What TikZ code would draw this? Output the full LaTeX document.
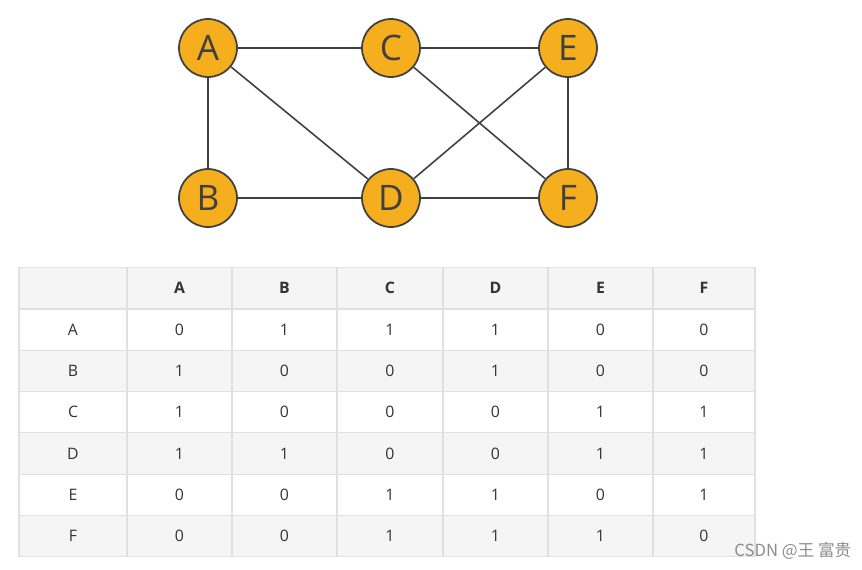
\documentclass[tikz,border=0pt]{standalone}
\usepackage{fontspec}
\setmainfont{Open Sans}
\newfontfamily\cjk{Noto Sans CJK SC}
\usetikzlibrary{calc}
\definecolor{vtxfill}{HTML}{F5AF1E}
\definecolor{inkgray}{HTML}{404040}
\definecolor{gridline}{HTML}{E0E0E0}
\definecolor{rowgray}{HTML}{F5F5F5}
\tikzset{
	vertex/.style={circle,draw=inkgray,line width=1pt,fill=vtxfill,minimum size=1.16cm,inner sep=0pt,text=inkgray,font=\fontsize{20}{20}\selectfont},
	link/.style={draw=inkgray,line width=0.9pt},
	cell/.style={rectangle,draw=gridline,line width=0.6pt,minimum height=0.826cm,inner sep=0pt,text=black!80,font=\fontsize{9}{9}\selectfont}
}
\newcommand{\colx}{{179.5,284.5,390,495.5,600.5,704}}
\newcommand{\colw}{{2.1,2.1,2.12,2.1,2.1,2.04}}

\begin{document}
\begin{tikzpicture}[x=0.02cm,y=-0.02cm]
	\useasboundingbox (0,0) rectangle (862,569);
	% graph
	\foreach \n / \x / \y in {A/208/48,C/391/48,E/568/48,B/208/198,D/391/198,F/568/198}
		\node[vertex] (\n) at (\x,\y) {\n};
	\foreach \a / \b in {A/C,C/E,A/B,A/D,B/D,D/F,C/F,D/E,E/F}
		\draw[link] (\a) -- (\b);
	% adjacency table
	\node[cell,fill=rowgray,minimum width=2.16cm] (h0) at (73,288) {};
	\foreach \l [count=\j] in {A,B,C,D,E,F} {
		\pgfmathsetmacro\cx{\colx[\j-1]}
		\pgfmathsetmacro\cw{\colw[\j-1]}
		\node[cell,fill=rowgray,minimum width=\cw cm] (h\l) at (\cx,288) {\bfseries\l};
	}
	\foreach \r / \bg / \vals [count=\i] in {A/white/{0,1,1,1,0,0},B/rowgray/{1,0,0,1,0,0},C/white/{1,0,0,0,1,1},D/rowgray/{1,1,0,0,1,1},E/white/{0,0,1,1,0,1},F/rowgray/{0,0,1,1,1,0}} {
		\node[cell,fill=\bg,minimum width=2.16cm] (r\r) at (73,{309+41.3*(\i-0.5)}) {\r};
		\foreach \v [count=\j] in \vals {
			\pgfmathsetmacro\cx{\colx[\j-1]}
			\pgfmathsetmacro\cw{\colw[\j-1]}
			\node[cell,fill=\bg,minimum width=\cw cm] (r\r\j) at (\cx,{309+41.3*(\i-0.5)}) {\v};
		}
	}
	\node[anchor=west,inner sep=0pt,text=black!45,font=\cjk\fontsize{9.5}{10}\selectfont] (mark) at (734,551) {CSDN @王 富贵};
\end{tikzpicture}
\end{document}
